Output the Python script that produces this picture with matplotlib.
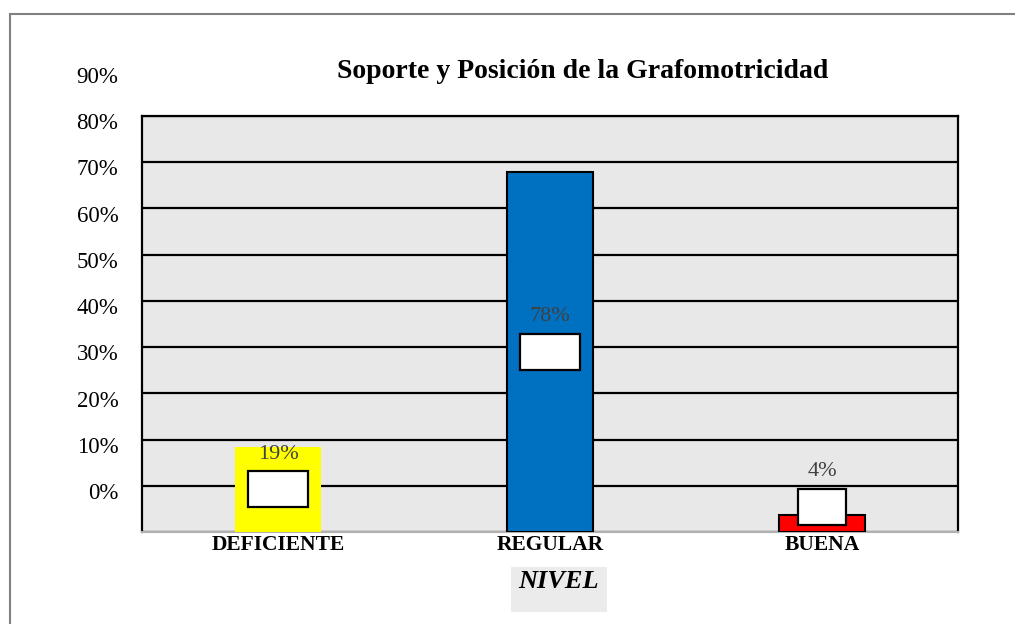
import matplotlib
matplotlib.use("Agg")
import matplotlib.pyplot as plt
from matplotlib.patches import Rectangle
from matplotlib.transforms import ScaledTranslation

categories = ["DEFICIENTE", "REGULAR", "BUENA"]
values = [0.19, 0.78, 0.04]
bar_values = [0.184, 0.779, 0.037]
colors = ["#FFFF00", "#0070C0", "#FF0000"]
edge_colors = ["none", "black", "black"]
yticks = [0.0, 0.1, 0.2, 0.3, 0.4, 0.5, 0.6, 0.7, 0.8, 0.9]
ytick_labels = ["0%", "10%", "20%", "30%", "40%", "50%", "60%", "70%", "80%", "90%"]
title = "Soporte y Posición de la Grafomotricidad"
xlabel = "NIVEL"

serif = ["Liberation Serif", "DejaVu Serif"]
plt.rcParams["font.family"] = serif

fig = plt.figure(figsize=(10.15, 6.24), dpi=100)
W, H = 1015, 624
fig.patches.append(Rectangle((10 / W, -0.1), 1.2, 1.1 - 14 / H, transform=fig.transFigure,
                             fill=False, edgecolor="#808080", linewidth=1.5, zorder=0))

ax = fig.add_axes([142 / W, 1 - 532 / H, (958 - 142) / W, (532 - 116) / H])
ax.set_facecolor("#e9e8e9")
ax.set_xlim(-0.5, 2.5)
ax.set_ylim(0, 0.9)
ax.set_yticks(yticks)
ax.set_yticklabels(ytick_labels, fontsize=16.5)
ax.tick_params(axis="y", length=0, pad=17)
ax.tick_params(axis="x", length=0, pad=2.5)
for lbl in ax.get_yticklabels():
    lbl.set_transform(lbl.get_transform() + ScaledTranslation(0, 0.41, fig.dpi_scale_trans))
ax.set_xticks(range(len(categories)))
ax.set_xticklabels(categories, fontsize=15.5, fontweight="bold")
ax.yaxis.grid(True, color="black", linewidth=1.6)
ax.set_axisbelow(True)
for s in ["left", "right", "top"]:
    ax.spines[s].set_color("black")
    ax.spines[s].set_linewidth(1.6)
ax.spines["bottom"].set_color("#b0b0b0")
ax.spines["bottom"].set_linewidth(1.5)

xs = list(range(len(categories)))
ax.bar(xs, bar_values, width=0.316, color=colors, edgecolor=edge_colors, linewidth=1.5, zorder=3)

box_px = 36
for x, v, bv in zip(xs, values, bar_values):
    yc = max(bv / 2, 0.055)
    bw = 0.22 if v > 0.1 else 0.175
    bh = box_px / 416 * 0.9
    ax.add_patch(Rectangle((x - bw / 2, yc - bh / 2), bw, bh, facecolor="white",
                           edgecolor="black", linewidth=1.6, zorder=4))
    ax.text(x, yc + 35 / 416 * 0.9, f"{round(v * 100)}%", ha="center", va="center",
            fontsize=16, color="#404040", zorder=5)

fig.text(583 / W, 1 - 71 / H, title, fontsize=20, fontweight="bold", ha="center", va="center")

fig.patches.append(Rectangle((511 / W, 1 - 612 / H), 96 / W, 45 / H, transform=fig.transFigure,
                             facecolor="#ebebeb", edgecolor="none", zorder=1))
fig.text(559 / W, 1 - 582 / H, xlabel, fontsize=19, fontweight="bold", style="italic",
         ha="center", va="center", zorder=2)

fig.savefig("out.png", dpi=100)
